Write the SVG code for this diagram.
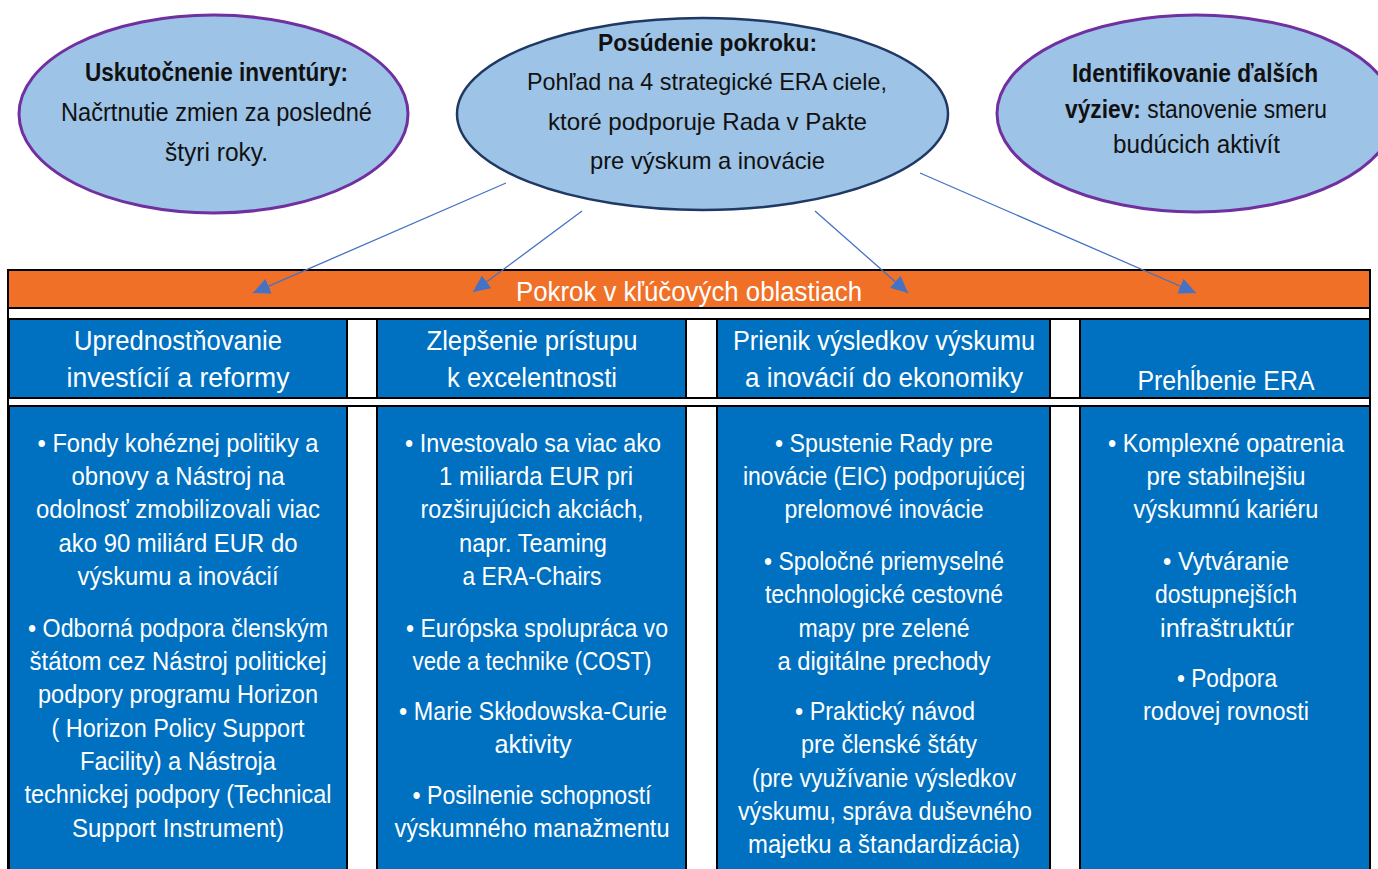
<svg xmlns="http://www.w3.org/2000/svg" width="1378" height="869" viewBox="0 0 1378 869">
<defs>
<style>
.ell{fill:#9DC3E6;}
.ep{stroke:#7030A0;stroke-width:3;}
.en{stroke:#1F3864;stroke-width:2.5;}
.t{font-family:"Liberation Sans",Arial,sans-serif;text-anchor:middle;}
.dk{fill:#111;font-size:24px;}
.nw{font-size:25px;}
.b{font-weight:bold;}
.w{fill:#fff;}
.hd{font-size:27px;}
.bd{font-size:25px;}
.cell{fill:#0070C0;stroke:#000;stroke-width:2;}
.ln{stroke:#000;stroke-width:2;}
.con{stroke:#4472C4;stroke-width:1.3;fill:none;marker-end:url(#ah);}
</style>
<marker id="ah" markerUnits="userSpaceOnUse" markerWidth="18" markerHeight="16" refX="17" refY="8" orient="auto">
<path d="M0,0 L17,8 L0,16 z" fill="#4472C4"/>
</marker>
</defs>
<rect width="1378" height="869" fill="#fff"/>

<g id="table">
<rect x="9" y="271" width="1360" height="37" fill="#F07027"/>
<rect x="8" y="270" width="1362" height="610" fill="none" class="ln"/>
<line x1="8" y1="308" x2="1370" y2="308" class="ln"/>
<line x1="8" y1="319" x2="1370" y2="319" class="ln"/>
<line x1="8" y1="398" x2="1370" y2="398" class="ln"/>
<line x1="8" y1="406" x2="1370" y2="406" class="ln"/>
<text class="t w" x="689" y="301" font-size="27" textLength="346" lengthAdjust="spacingAndGlyphs">Pokrok v kľúčových oblastiach</text>
</g>

<g id="h1">
<rect class="cell" x="9" y="319" width="338" height="79"/>
<text class="t w hd" x="178" y="350" textLength="208" lengthAdjust="spacingAndGlyphs">Uprednostňovanie</text>
<text class="t w hd" x="178" y="387" textLength="223" lengthAdjust="spacingAndGlyphs">investícií a reformy</text>
</g>
<g id="h2">
<rect class="cell" x="377" y="319" width="309" height="79"/>
<text class="t w hd" x="532" y="350" textLength="211" lengthAdjust="spacingAndGlyphs">Zlepšenie prístupu</text>
<text class="t w hd" x="532" y="387" textLength="170" lengthAdjust="spacingAndGlyphs">k excelentnosti</text>
</g>
<g id="h3">
<rect class="cell" x="717" y="319" width="333" height="79"/>
<text class="t w hd" x="884" y="350" textLength="302" lengthAdjust="spacingAndGlyphs">Prienik výsledkov výskumu</text>
<text class="t w hd" x="884" y="387" textLength="278" lengthAdjust="spacingAndGlyphs">a inovácií do ekonomiky</text>
</g>
<g id="h4">
<rect class="cell" x="1080" y="319" width="290" height="79"/>
<text class="t w hd" x="1226" y="390" textLength="177" lengthAdjust="spacingAndGlyphs">Prehĺbenie ERA</text>
</g>

<g id="b1">
<rect class="cell" x="9" y="406" width="338" height="474"/>
<text class="t w bd" x="178" y="452" textLength="281" lengthAdjust="spacingAndGlyphs">• Fondy kohéznej politiky a</text>
<text class="t w bd" x="178" y="485" textLength="213" lengthAdjust="spacingAndGlyphs">obnovy a Nástroj na</text>
<text class="t w bd" x="178" y="518" textLength="284" lengthAdjust="spacingAndGlyphs">odolnosť zmobilizovali viac</text>
<text class="t w bd" x="178" y="552" textLength="239" lengthAdjust="spacingAndGlyphs">ako 90 miliárd EUR do</text>
<text class="t w bd" x="178" y="585" textLength="201" lengthAdjust="spacingAndGlyphs">výskumu a inovácií</text>
<text class="t w bd" x="178" y="637" textLength="300" lengthAdjust="spacingAndGlyphs">• Odborná podpora členským</text>
<text class="t w bd" x="178" y="670" textLength="297" lengthAdjust="spacingAndGlyphs">štátom cez Nástroj politickej</text>
<text class="t w bd" x="178" y="703" textLength="280" lengthAdjust="spacingAndGlyphs">podpory programu Horizon</text>
<text class="t w bd" x="178" y="737" textLength="253" lengthAdjust="spacingAndGlyphs">( Horizon Policy Support</text>
<text class="t w bd" x="178" y="770" textLength="196" lengthAdjust="spacingAndGlyphs">Facility) a Nástroja</text>
<text class="t w bd" x="178" y="803" textLength="307" lengthAdjust="spacingAndGlyphs">technickej podpory (Technical</text>
<text class="t w bd" x="178" y="837" textLength="212" lengthAdjust="spacingAndGlyphs">Support Instrument)</text>
</g>
<g id="b2">
<rect class="cell" x="377" y="406" width="309" height="474"/>
<text class="t w bd" x="533" y="452" textLength="256" lengthAdjust="spacingAndGlyphs">• Investovalo sa viac ako</text>
<text class="t w bd" x="536" y="485" textLength="194" lengthAdjust="spacingAndGlyphs">1 miliarda EUR pri</text>
<text class="t w bd" x="532" y="518" textLength="223" lengthAdjust="spacingAndGlyphs">rozširujúcich akciách,</text>
<text class="t w bd" x="533" y="552" textLength="148" lengthAdjust="spacingAndGlyphs">napr. Teaming</text>
<text class="t w bd" x="532" y="585" textLength="139" lengthAdjust="spacingAndGlyphs">a ERA-Chairs</text>
<text class="t w bd" x="537" y="637" textLength="262" lengthAdjust="spacingAndGlyphs">• Európska spolupráca vo</text>
<text class="t w bd" x="532" y="670" textLength="239" lengthAdjust="spacingAndGlyphs">vede a technike (COST)</text>
<text class="t w bd" x="533" y="720" textLength="268" lengthAdjust="spacingAndGlyphs">• Marie Skłodowska-Curie</text>
<text class="t w bd" x="533" y="753" textLength="77" lengthAdjust="spacingAndGlyphs">aktivity</text>
<text class="t w bd" x="532" y="804" textLength="239" lengthAdjust="spacingAndGlyphs">• Posilnenie schopností</text>
<text class="t w bd" x="532" y="837" textLength="275" lengthAdjust="spacingAndGlyphs">výskumného manažmentu</text>
</g>
<g id="b3">
<rect class="cell" x="717" y="406" width="333" height="474"/>
<text class="t w bd" x="884" y="452" textLength="218" lengthAdjust="spacingAndGlyphs">• Spustenie Rady pre</text>
<text class="t w bd" x="884" y="485" textLength="282" lengthAdjust="spacingAndGlyphs">inovácie (EIC) podporujúcej</text>
<text class="t w bd" x="884" y="518" textLength="199" lengthAdjust="spacingAndGlyphs">prelomové inovácie</text>
<text class="t w bd" x="884" y="570" textLength="240" lengthAdjust="spacingAndGlyphs">• Spoločné priemyselné</text>
<text class="t w bd" x="884" y="603" textLength="238" lengthAdjust="spacingAndGlyphs">technologické cestovné</text>
<text class="t w bd" x="884" y="637" textLength="171" lengthAdjust="spacingAndGlyphs">mapy pre zelené</text>
<text class="t w bd" x="884" y="670" textLength="213" lengthAdjust="spacingAndGlyphs">a digitálne prechody</text>
<text class="t w bd" x="885" y="720" textLength="180" lengthAdjust="spacingAndGlyphs">• Praktický návod</text>
<text class="t w bd" x="889" y="753" textLength="176" lengthAdjust="spacingAndGlyphs">pre členské štáty</text>
<text class="t w bd" x="884" y="787" textLength="264" lengthAdjust="spacingAndGlyphs">(pre využívanie výsledkov</text>
<text class="t w bd" x="885" y="820" textLength="294" lengthAdjust="spacingAndGlyphs">výskumu, správa duševného</text>
<text class="t w bd" x="884" y="853" textLength="272" lengthAdjust="spacingAndGlyphs">majetku a štandardizácia)</text>
</g>
<g id="b4">
<rect class="cell" x="1080" y="406" width="290" height="474"/>
<text class="t w bd" x="1226" y="452" textLength="236" lengthAdjust="spacingAndGlyphs">• Komplexné opatrenia</text>
<text class="t w bd" x="1226" y="485" textLength="159" lengthAdjust="spacingAndGlyphs">pre stabilnejšiu</text>
<text class="t w bd" x="1226" y="518" textLength="185" lengthAdjust="spacingAndGlyphs">výskumnú kariéru</text>
<text class="t w bd" x="1226" y="570" textLength="126" lengthAdjust="spacingAndGlyphs">• Vytváranie</text>
<text class="t w bd" x="1226" y="603" textLength="142" lengthAdjust="spacingAndGlyphs">dostupnejších</text>
<text class="t w bd" x="1227" y="637" textLength="134" lengthAdjust="spacingAndGlyphs">infraštruktúr</text>
<text class="t w bd" x="1227" y="687" textLength="100" lengthAdjust="spacingAndGlyphs">• Podpora</text>
<text class="t w bd" x="1226" y="720" textLength="166" lengthAdjust="spacingAndGlyphs">rodovej rovnosti</text>
</g>

<g id="e1">
<ellipse class="ell ep" cx="213.5" cy="114" rx="194.5" ry="99"/>
<text class="t dk nw b" x="216.5" y="81" textLength="263" lengthAdjust="spacingAndGlyphs">Uskutočnenie inventúry:</text>
<text class="t dk nw" x="216.5" y="121" textLength="311" lengthAdjust="spacingAndGlyphs">Načrtnutie zmien za posledné</text>
<text class="t dk nw" x="216.5" y="161" textLength="103" lengthAdjust="spacingAndGlyphs">štyri roky.</text>
</g>
<g id="e2">
<ellipse class="ell en" cx="702.5" cy="114" rx="245.5" ry="96"/>
<text class="t dk b" x="707.5" y="51" textLength="219" lengthAdjust="spacingAndGlyphs">Posúdenie pokroku:</text>
<text class="t dk" x="707" y="90" textLength="360" lengthAdjust="spacingAndGlyphs">Pohľad na 4 strategické ERA ciele,</text>
<text class="t dk" x="707.5" y="130" textLength="319" lengthAdjust="spacingAndGlyphs">ktoré podporuje Rada v Pakte</text>
<text class="t dk" x="707.5" y="169" textLength="235" lengthAdjust="spacingAndGlyphs">pre výskum a inovácie</text>
</g>
<g id="e3">
<ellipse class="ell ep" cx="1196" cy="113.5" rx="199" ry="98.5"/>
<text class="t dk nw b" x="1195" y="82" textLength="246" lengthAdjust="spacingAndGlyphs">Identifikovanie ďalších</text>
<text class="t dk nw" x="1196" y="118" textLength="262" lengthAdjust="spacingAndGlyphs"><tspan font-weight="bold">výziev:</tspan> stanovenie smeru</text>
<text class="t dk nw" x="1196.5" y="153" textLength="167" lengthAdjust="spacingAndGlyphs">budúcich aktivít</text>
</g>

<g id="connectors">
<line class="con" x1="506" y1="183" x2="253" y2="293"/>
<line class="con" x1="582" y1="211" x2="473" y2="292"/>
<line class="con" x1="815" y1="211" x2="908" y2="293"/>
<line class="con" x1="920" y1="173" x2="1196" y2="293"/>
</g>
</svg>
